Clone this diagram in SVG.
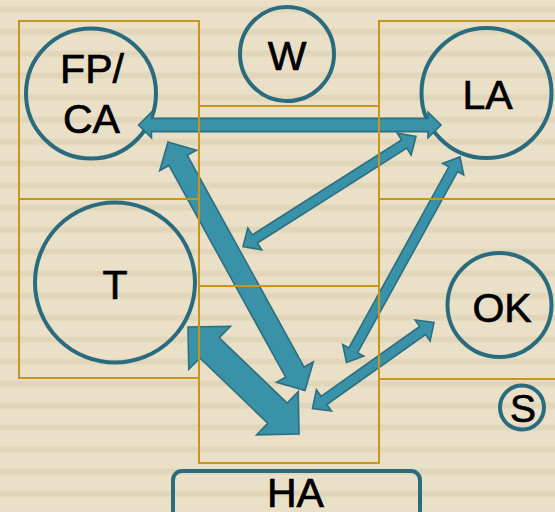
<svg xmlns="http://www.w3.org/2000/svg" width="555" height="512" viewBox="0 0 555 512">
  <style>
    .node { fill: none; stroke: #2A6C7E; stroke-width: 4; }
    .zone { fill: none; stroke: #C9961C; stroke-width: 2; }
    .link { fill: #3A92A8; stroke: #2B6F82; stroke-width: 1.6; stroke-linejoin: miter; }
    .lbl { font-family: "Liberation Sans", Arial, sans-serif; font-size: 41px; fill: #000; stroke: #000; stroke-width: 0.7; text-anchor: middle; }
  </style>
  <defs>
    <pattern id="stripes" patternUnits="userSpaceOnUse" x="0" y="6.7" width="555" height="22">
      <rect x="0" y="0" width="555" height="22" fill="#EAE0C8"/>
      <rect x="0" y="0" width="555" height="5.8" fill="#E1D6BA"/>
    </pattern>
  </defs>

  <!-- striped paper background -->
  <rect x="0" y="0" width="555" height="512" fill="url(#stripes)"/>

  <!-- nodes -->
  <g id="node-fpca">
    <circle class="node" cx="91" cy="93.5" r="65"/>
    <text class="lbl" x="92" y="83">FP/</text>
    <text class="lbl" x="91.5" y="133">CA</text>
  </g>
  <g id="node-w">
    <circle class="node" cx="287" cy="54" r="47"/>
    <text class="lbl" x="287" y="70">W</text>
  </g>
  <g id="node-la">
    <circle class="node" cx="486.5" cy="93" r="65"/>
    <text class="lbl" x="487.5" y="109">LA</text>
  </g>
  <g id="node-t">
    <circle class="node" cx="115" cy="282.5" r="80"/>
    <text class="lbl" x="115" y="299">T</text>
  </g>
  <g id="node-ok">
    <circle class="node" cx="499.5" cy="305" r="52"/>
    <text class="lbl" x="502" y="321.5">OK</text>
  </g>
  <g id="node-s">
    <circle class="node" cx="522" cy="407.5" r="22"/>
    <text class="lbl" x="523" y="422" style="font-size:39px">S</text>
  </g>
  <g id="node-ha">
    <rect class="node" x="173" y="471" width="247" height="60" rx="9"/>
    <text class="lbl" x="295.5" y="507">HA</text>
  </g>

  <!-- connectors: double-headed block arrows, drawn along local x axis -->
  <g id="connectors">
    <!-- FP/CA <-> LA -->
    <polygon class="link" transform="translate(138.5,125)"
      points="0,0 13,-12.8 13,-6.6 289.5,-6.6 289.5,-12.8 302.5,0 289.5,12.8 289.5,6.6 13,6.6 13,12.8"/>
    <!-- LA <-> centre -->
    <polygon class="link" transform="translate(243,246.5) rotate(-32.45)"
      points="0,0 14,-13 14,-4.8 191,-4.8 191,-13 205,0 191,13 191,4.8 14,4.8 14,13"/>
    <!-- FP/CA <-> HA -->
    <polygon class="link" transform="translate(168,142) rotate(61.13)"
      points="0,0 21,-21 21,-10.5 262.8,-10.5 262.8,-21 283.8,0 262.8,21 262.8,10.5 21,10.5 21,21"/>
    <!-- LA <-> HA -->
    <polygon class="link" transform="translate(346.5,362.5) rotate(-61.1)"
      points="0,0 14,-12 14,-5 220.8,-5 220.8,-12 234.8,0 220.8,12 220.8,5 14,5 14,12"/>
    <!-- OK <-> HA -->
    <polygon class="link" transform="translate(312.5,408.5) rotate(-35.3)"
      points="0,0 14,-13 14,-5 134.9,-5 134.9,-13 148.9,0 134.9,13 134.9,5 14,5 14,13"/>
    <!-- T <-> HA -->
    <polygon class="link" transform="translate(188,327) rotate(43.95)"
      points="0,0 30,-30 30,-14 124.2,-14 124.2,-30 154.2,0 124.2,30 124.2,14 30,14 30,30"/>
  </g>

  <!-- region grid -->
  <g id="zones">
    <rect class="zone" x="19" y="21" width="180" height="178"/>
    <rect class="zone" x="19" y="199" width="180" height="179"/>
    <rect class="zone" x="199" y="106" width="180" height="180"/>
    <rect class="zone" x="199" y="286" width="180" height="177"/>
    <rect class="zone" x="379" y="21" width="180" height="178"/>
    <rect class="zone" x="379" y="199" width="180" height="180"/>
  </g>
</svg>
